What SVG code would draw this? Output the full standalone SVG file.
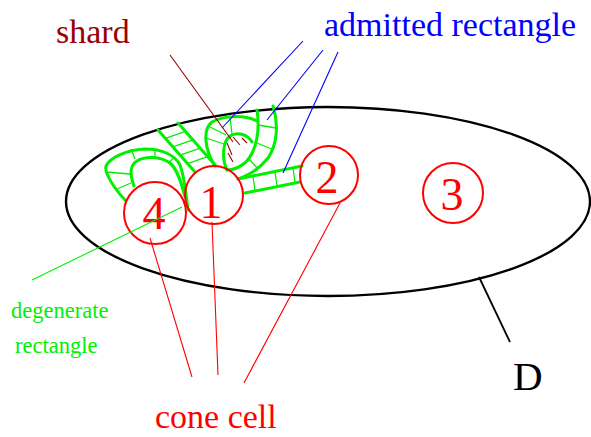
<svg xmlns="http://www.w3.org/2000/svg" width="591" height="437" viewBox="0 0 591 437">
<style>
.lbl{font-family:"Liberation Serif","Times New Roman",serif}
.cell{fill:none;stroke:#ff0000;stroke-width:2}
.digit{font-family:"Liberation Serif","Times New Roman",serif;font-size:46px;fill:#ff0000;text-anchor:middle}
.gk{fill:none;stroke:#00f000;stroke-width:3;stroke-linecap:round;stroke-linejoin:round}
.gt{fill:none;stroke:#00f000;stroke-width:1.3}
.lead{fill:none;stroke-width:1.1}
</style>
<rect width="591" height="437" fill="#ffffff"/>
<g id="domain">
<ellipse cx="328" cy="201.5" rx="262" ry="94.5" fill="none" stroke="#000" stroke-width="2.4"/>
</g>
<g id="shards">
<!-- left shard -->
<path class="gk" d="M125,200 C113,187 104,172 106,166 C110,158 125,150 145,149 C162,149 175,155 180,165 C185,178 186,195 188,210"/>
<path class="gk" d="M134,186 C130,175 130,165 137,161 C145,156 160,156 170,163 C178,170 182,185 185,197"/>
<path class="gt" d="M106,172 L130,174 M117,189 L131,183 M131,149 L135,159 M155,149 L155,157 M175,157 L168,163"/>
<!-- ladder strip -->
<path class="gk" d="M158,130 L195,172 M178,123 L215,165"/>
<path class="gt" d="M165.4,138.4 L185.4,131.4 M172.8,146.8 L192.8,139.8 M180.2,155.2 L200.2,148.2 M187.6,163.6 L207.6,156.6"/>
<!-- right shard -->
<path class="gk" d="M215,166 C205,150 202,130 212,122 C224,115 245,115 257,121"/>
<path class="gk" d="M257,110 C260,130 257,150 246,162 C239,168 233,170 227,170"/>
<path class="gk" d="M227,170 C222,160 222,142 230,136 C238,131 248,135 252,142"/>
<path class="gk" d="M273,106 C279,125 277,145 268,158 C260,168 250,175 238,179"/>
<path class="gt" d="M206,138 L224,144 M210,127 L226,135 M230,117 L232,134 M258,125 L276,128 M257,143 L274,150 M249,159 L258,169"/>
<path fill="none" stroke="#990000" stroke-width="1.1" d="M227,143 L232,155 M233,137 L240,145 M242,138 L247,143 M228,153 L233,162"/>
<!-- ladder to cell 2 -->
<path class="gk" d="M238,179 L302,166 M245,193 L300,182"/>
<path class="gt" d="M253,177 L255,190 M275,172 L277,186 M293,168 L295,182"/>
</g>
<g id="cell4"><circle class="cell" cx="155" cy="213" r="31"/><text class="digit" x="154" y="229">4</text></g>
<g id="cell1"><circle class="cell" cx="214" cy="195" r="29"/><text class="digit" x="211" y="218">1</text></g>
<g id="cell2"><circle class="cell" cx="329" cy="175" r="29"/><text class="digit" x="327" y="193">2</text></g>
<g id="cell3"><circle class="cell" cx="453" cy="193" r="30"/><text class="digit" x="452" y="210">3</text></g>
<g id="connectors">
<path class="lead" stroke="#990000" d="M170,55 L233,142"/>
<path class="lead" stroke="#0000ff" d="M303,41 L222,128 M323,50 L267,120 M338,52 L283,173"/>
<path class="lead" stroke="#00f000" d="M32,280 L182,207"/>
<path class="lead" stroke="#ff0000" d="M150,238 L192,377 M212,222 L218,375 M340,203 L244,383"/>
<path fill="none" stroke="#000" stroke-width="1.8" d="M479,277 L510,342"/>
</g>
<g id="labels">
<text class="lbl" x="56" y="43" font-size="34" fill="#990000">shard</text>
<text class="lbl" x="324" y="36" font-size="34" fill="#0000ff">admitted rectangle</text>
<text class="lbl" x="11" y="318" font-size="22.5" fill="#00f000">degenerate</text>
<text class="lbl" x="15" y="353" font-size="22.5" fill="#00f000">rectangle</text>
<text class="lbl" x="155" y="428" font-size="34" fill="#ff0000">cone cell</text>
<text class="lbl" x="513" y="390" font-size="41" fill="#000">D</text>
</g>
</svg>
